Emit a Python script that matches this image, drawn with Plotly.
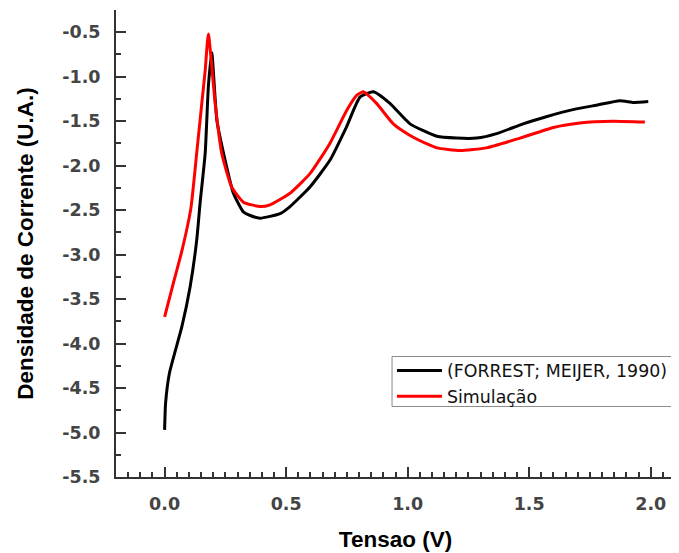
import plotly.graph_objects as go

# Experimental curve (FORREST; MEIJER, 1990)
exp_v = [0.0, 0.004, 0.02, 0.071, 0.105, 0.132, 0.146, 0.167, 0.18, 0.194, 0.215, 0.249, 0.283,
         0.324, 0.352, 0.393, 0.434, 0.475, 0.516, 0.598, 0.68, 0.749, 0.804, 0.859, 0.927,
         1.01, 1.12, 1.2, 1.284, 1.366, 1.475, 1.57, 1.68, 1.777, 1.873, 1.93, 1.99]
exp_j = [-4.97, -4.67, -4.33, -3.81, -3.36, -2.84, -2.42, -1.86, -1.11, -0.73, -1.49, -1.94, -2.31,
         -2.52, -2.56, -2.59, -2.57, -2.54, -2.46, -2.24, -1.94, -1.56, -1.23, -1.17, -1.30,
         -1.53, -1.67, -1.69, -1.69, -1.64, -1.53, -1.45, -1.37, -1.32, -1.27, -1.29, -1.28]

# Simulation curve
sim_v = [0.0, 0.036, 0.07, 0.108, 0.132, 0.153, 0.167, 0.18, 0.208, 0.235, 0.276, 0.324, 0.393,
         0.434, 0.516, 0.598, 0.68, 0.749, 0.79, 0.817, 0.872, 0.941, 1.01, 1.092, 1.12, 1.215,
         1.325, 1.462, 1.6, 1.708, 1.845, 1.976]
sim_j = [-3.70, -3.32, -2.97, -2.48, -1.86, -1.30, -0.93, -0.52, -1.30, -1.86, -2.24, -2.41, -2.46,
         -2.44, -2.31, -2.09, -1.75, -1.38, -1.21, -1.17, -1.30, -1.53, -1.66, -1.77, -1.80, -1.83,
         -1.80, -1.69, -1.57, -1.52, -1.50, -1.51]

x_tick_vals = [0.0, 0.5, 1.0, 1.5, 2.0]
x_tick_text = ["0.0", "0.5", "1.0", "1.5", "2.0"]
y_tick_vals = [-5.5, -5.0, -4.5, -4.0, -3.5, -3.0, -2.5, -2.0, -1.5, -1.0, -0.5]
y_tick_text = ["-5.5", "-5.0", "-4.5", "-4.0", "-3.5", "-3.0", "-2.5", "-2.0", "-1.5", "-1.0", "-0.5"]

fig = go.Figure()
fig.add_trace(go.Scatter(x=exp_v, y=exp_j, mode="lines", name="(FORREST; MEIJER, 1990)",
                         line=dict(color="#000000", width=3, shape="spline", smoothing=0.5)))
fig.add_trace(go.Scatter(x=sim_v, y=sim_j, mode="lines", name="Simulação",
                         line=dict(color="#ff0000", width=3, shape="spline", smoothing=0.5)))

tickfont = dict(family="DejaVu Sans", size=17.5, color="#444444", weight="bold")
titlefont = dict(family="Liberation Sans", size=22.5, color="#000000", weight="bold")

# legend frame drawn as a thin box (tighter than plotly's own legend padding)
fig.add_shape(type="rect", xref="paper", yref="paper",
              x0=0.4938, x1=1.0032, y0=0.151, y1=0.258,
              line=dict(color="#8a8a8a", width=1), fillcolor="rgba(0,0,0,0)", layer="above")

# page body has an 8px margin, so the figure is sized to fit the 679x553 window
fig.update_layout(
    width=671, height=545,
    margin=dict(l=107.5, r=4, t=2, b=76),
    plot_bgcolor="white", paper_bgcolor="white",
    legend=dict(x=0.4937, y=0.266, xanchor="left", yanchor="top",
                borderwidth=0, bgcolor="rgba(0,0,0,0)",
                font=dict(family="DejaVu Sans", size=17.4, color="#111111"),
                itemwidth=45),
    xaxis=dict(range=[-0.2, 2.1], tickmode="array", tickvals=x_tick_vals, ticktext=x_tick_text,
               ticks="inside", ticklen=10, tickwidth=2, tickcolor="#333333",
               showline=True, linecolor="#333333", linewidth=2,
               showgrid=False, zeroline=False, tickfont=tickfont, ticklabelstandoff=10,
               minor=dict(tickmode="linear", tick0=0, dtick=0.05, ticks="inside", ticklen=5,
                          tickwidth=1.5, tickcolor="#333333", showgrid=False),
               title=dict(text="Tensao (V)", font=titlefont, standoff=18)),
    yaxis=dict(range=[-5.5, -0.25], tickmode="array", tickvals=y_tick_vals, ticktext=y_tick_text,
               ticks="inside", ticklen=10, tickwidth=2, tickcolor="#333333",
               showline=True, linecolor="#333333", linewidth=2,
               showgrid=False, zeroline=False, tickfont=tickfont, ticklabelstandoff=10,
               minor=dict(tickmode="linear", tick0=0, dtick=0.25, ticks="inside", ticklen=5,
                          tickwidth=1.5, tickcolor="#333333", showgrid=False),
               title=dict(text="Densidade de Corrente (U.A.)", font=titlefont, standoff=22)),
)

fig.write_html("out.html")
